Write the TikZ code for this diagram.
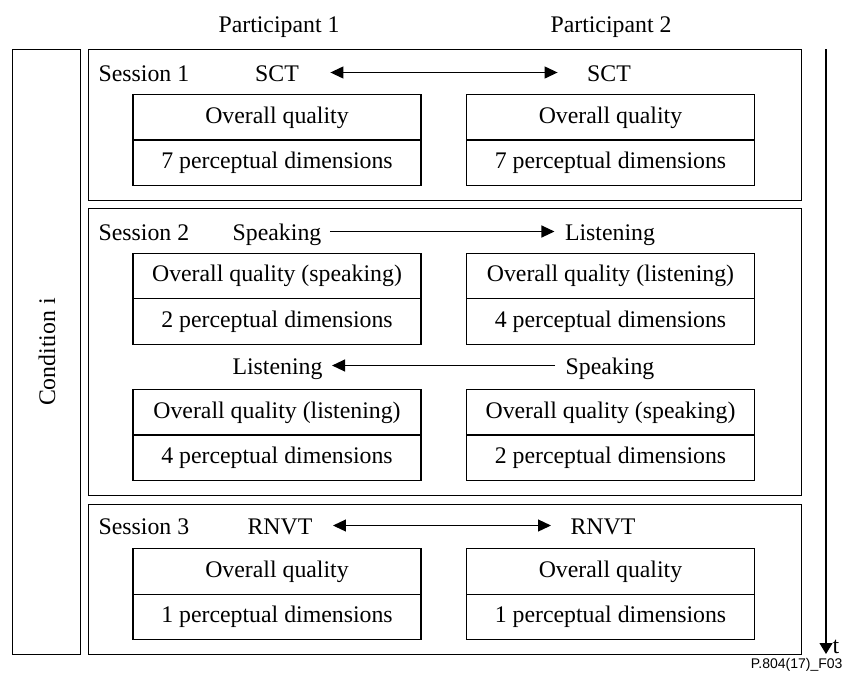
\documentclass[tikz,border=0pt]{standalone}
\usepackage{fontspec}
\setmainfont{Liberation Serif}
\newfontfamily\arialfont{Liberation Sans}
\usetikzlibrary{arrows.meta}
\begin{document}
\begin{tikzpicture}[x=1pt,y=-1pt,line width=1.2pt,
  frame/.style={draw,inner sep=0pt,anchor=north west},
  cell/.style={draw,minimum width=288pt,minimum height=45.5pt,inner sep=0pt,
    text height=16pt,text depth=5pt,font=\fontsize{23.8}{26}\selectfont},
  lbl/.style={inner sep=0pt,text height=17pt,text depth=0pt,anchor=base,
    font=\fontsize{23.8}{26}\selectfont},
  flow/.style={-{Triangle[length=13pt,width=12pt]},line width=1.2pt},
  biflow/.style={{Triangle[length=13pt,width=12pt]}-{Triangle[length=13pt,width=12pt]},line width=1.2pt}]
\useasboundingbox (0,0) rectangle (845,678);

% frames
\node[frame,minimum width=68pt,minimum height=605pt] (cond) at (12,49) {};
\node[frame,minimum width=713pt,minimum height=151pt] (s1) at (87.5,49) {};
\node[frame,minimum width=713pt,minimum height=287pt] (s2) at (87.5,208) {};
\node[frame,minimum width=713pt,minimum height=150pt] (s3) at (87.5,504) {};

\node[lbl,rotate=90,anchor=center] (condl) at (cond.center) {Condition i};

% participants
\node[lbl] (p1) at (279,32) {Participant 1};
\node[lbl] (p2) at (611,32) {Participant 2};

% session 1
\node[lbl,anchor=base west] (s1l) at (98,81) {Session 1};
\node[lbl] (sct1) at (277,81) {SCT};
\node[lbl] (sct2) at (609,81) {SCT};
\draw[biflow,shorten <=31pt,shorten >=29pt] (sct1.east) -- (sct2.west);
\node[cell] (a1) at (277,117.5) {Overall quality};
\node[cell] (a2) at (277,162.5) {7 perceptual dimensions};
\node[cell] (b1) at (610.5,117.5) {Overall quality};
\node[cell] (b2) at (610.5,162.5) {7 perceptual dimensions};

% session 2
\node[lbl,anchor=base west] (s2l) at (98,240) {Session 2};
\node[lbl] (sp1) at (277,240) {Speaking};
\node[lbl] (li2) at (610,240) {Listening};
\draw[flow,shorten <=8pt,shorten >=10pt] (sp1.east) -- (li2.west);
\node[cell] (c1) at (277,276) {Overall quality (speaking)};
\node[cell] (c2) at (277,321.5) {2 perceptual dimensions};
\node[cell] (d1) at (610.5,276) {Overall quality (listening)};
\node[cell] (d2) at (610.5,321.5) {4 perceptual dimensions};

\node[lbl] (li1) at (277.5,374) {Listening};
\node[lbl] (sp2) at (610,374) {Speaking};
\draw[flow,shorten <=10pt,shorten >=9pt] (sp2.west) -- (li1.east);
\node[cell] (e1) at (277,412.5) {Overall quality (listening)};
\node[cell] (e2) at (277,457.5) {4 perceptual dimensions};
\node[cell] (f1) at (610.5,412.5) {Overall quality (speaking)};
\node[cell] (f2) at (610.5,457.5) {2 perceptual dimensions};

% session 3
\node[lbl,anchor=base west] (s3l) at (98,534) {Session 3};
\node[lbl] (rn1) at (280,534) {RNVT};
\node[lbl] (rn2) at (603,534) {RNVT};
\draw[biflow,shorten <=20pt,shorten >=19pt] (rn1.east) -- (rn2.west);
\node[cell] (g1) at (277,571.5) {Overall quality};
\node[cell] (g2) at (277,617) {1 perceptual dimensions};
\node[cell] (h1) at (610.5,571.5) {Overall quality};
\node[cell] (h2) at (610.5,617) {1 perceptual dimensions};

% time axis
\coordinate (t0) at (826,49);
\coordinate (t1) at (826,654);
\draw[-{Triangle[length=11pt,width=13pt]},line width=1.2pt] (t0) -- (t1);
\node[inner sep=0pt,anchor=base west,font=\fontsize{23.8}{26}\selectfont] (tl) at (832,653) {t};

\node[inner sep=0pt,anchor=base east,font=\arialfont\fontsize{14}{16}\selectfont] (ref) at (843,668) {P.804(17)\_F03};
\end{tikzpicture}
\end{document}
